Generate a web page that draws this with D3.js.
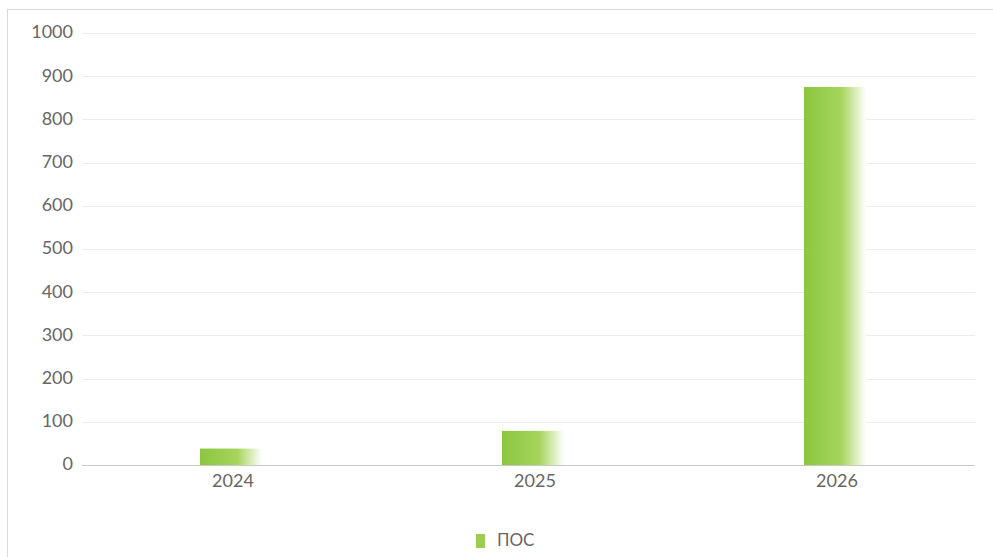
<!DOCTYPE html>
<html><head><meta charset="utf-8">
<script src="https://cdn.jsdelivr.net/npm/d3@7"></script>
<style>body{margin:0;background:#fff;}svg{display:block;font-family:Lato,"Open Sans",sans-serif;}</style>
</head><body>
<svg id="c" width="993" height="557"></svg>
<script>
const categories = ["2024", "2025", "2026"];
const values = [38, 79, 875];
const yTicks = [0, 100, 200, 300, 400, 500, 600, 700, 800, 900, 1000];
const seriesName = "ПОС";

const svg = d3.select("#c");
const x = d3.scaleBand().domain(categories).range([82, 988]).paddingInner(0).paddingOuter(0);
const y = d3.scaleLinear().domain([0, 1000]).range([465, 33]);

svg.append("rect").attr("x", 7.5).attr("y", 9.5).attr("width", 995).attr("height", 560)
  .attr("fill", "none").attr("stroke", "#d9d9d9");

const defs = svg.append("defs");
const g = defs.append("linearGradient").attr("id", "gr").attr("x1", 0).attr("x2", 1).attr("y1", 0).attr("y2", 0);
g.append("stop").attr("offset", "0%").attr("stop-color", "#8cc63f");
g.append("stop").attr("offset", "60%").attr("stop-color", "#a6d45c");
g.append("stop").attr("offset", "100%").attr("stop-color", "#ffffff");

svg.append("g").selectAll("line").data(yTicks.filter(d => d > 0)).join("line")
  .attr("x1", 82).attr("x2", 975).attr("y1", d => Math.round(y(d)) + 0.5).attr("y2", d => Math.round(y(d)) + 0.5)
  .attr("stroke", "#ececec");

svg.append("line").attr("x1", 82).attr("x2", 975).attr("y1", y(0) + 0.5).attr("y2", y(0) + 0.5).attr("stroke", "#c8c8c8");

svg.append("g").selectAll("text").data(yTicks).join("text")
  .attr("x", 73).attr("y", d => y(d) - 1).attr("dy", "0.35em").attr("text-anchor", "end")
  .attr("font-size", 18).attr("fill", "#666").text(d => d);

const bw = 62;
svg.append("g").selectAll("rect").data(values).join("rect")
  .attr("x", (d, i) => x(categories[i]) + x.bandwidth() / 2 - bw / 2 - 2)
  .attr("y", d => y(d)).attr("width", bw).attr("height", d => y(0) - y(d))
  .attr("fill", "url(#gr)");

svg.append("g").selectAll("text").data(categories).join("text")
  .attr("x", d => x(d) + x.bandwidth() / 2).attr("y", 481).attr("dy", "0.35em").attr("text-anchor", "middle")
  .attr("font-size", 18).attr("fill", "#666").text(d => d);

const lg = svg.append("g");
lg.append("rect").attr("x", 476).attr("y", 534).attr("width", 9).attr("height", 14).attr("fill", "#9ccc50");
lg.append("text").attr("x", 497).attr("y", 540).attr("dy", "0.35em").attr("font-size", 17).attr("fill", "#666").text(seriesName);
</script>
</body></html>
